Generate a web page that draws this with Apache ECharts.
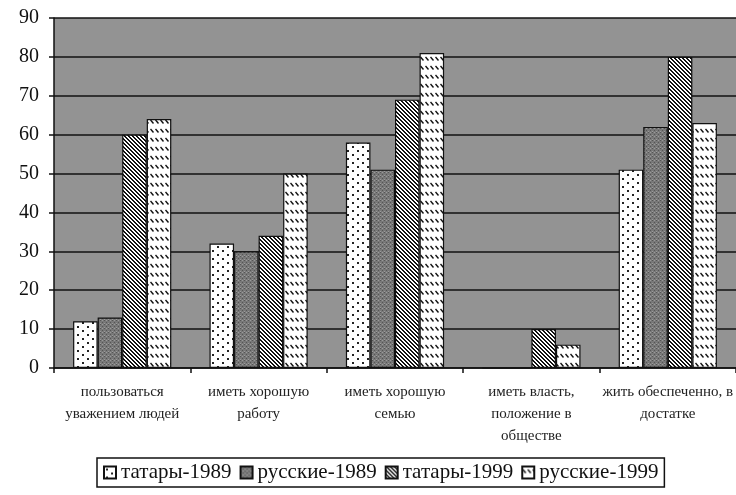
<!DOCTYPE html>
<html>
<head>
<meta charset="utf-8">
<script src="https://cdn.jsdelivr.net/npm/echarts@6/dist/echarts.min.js"></script>
<style>
  html, body { margin: 0; padding: 0; background: #fff; }
  #chart { width: 736px; height: 495px; }
</style>
</head>
<body>
<div id="chart"></div>
<script>
// ценности, которые хотят иметь (в %)
const categories = [
  'пользоваться\nуважением людей',
  'иметь хорошую\nработу',
  'иметь хорошую\nсемью',
  'иметь власть,\nположение в\nобществе',
  'жить обеспеченно, в\nдостатке'
];
const seriesNames = ['татары-1989', 'русские-1989', 'татары-1999', 'русские-1999'];
const tatars1989 = [12, 32, 58, 0, 51];
const russians1989 = [13, 30, 51, 0, 62];
const tatars1999 = [60, 34, 69, 10, 80];
const russians1999 = [64, 50, 81, 6, 63];
const yTicks = [0, 10, 20, 30, 40, 50, 60, 70, 80, 90];

// штриховки как в книжной картинке
function makePattern(w, h, draw) {
  const c = document.createElement('canvas');
  c.width = w;
  c.height = h;
  const ctx = c.getContext('2d');
  draw(ctx);
  return { image: c, repeat: 'repeat' };
}

const dots = makePattern(10, 8, ctx => {
  ctx.fillStyle = '#fff';
  ctx.fillRect(0, 0, 10, 8);
  ctx.fillStyle = '#222';
  ctx.fillRect(2, 2, 2, 2);
  ctx.fillRect(7, 6, 2, 2);
});

const darkGray = makePattern(4, 4, ctx => {
  ctx.fillStyle = '#787878';
  ctx.fillRect(0, 0, 4, 4);
  ctx.fillStyle = '#555';
  ctx.fillRect(0, 0, 1, 1);
  ctx.fillRect(2, 2, 1, 1);
  ctx.fillStyle = '#9a9a9a';
  ctx.fillRect(2, 0, 1, 1);
  ctx.fillRect(0, 3, 1, 1);
});

const diag = makePattern(4, 4, ctx => {
  ctx.fillStyle = '#fff';
  ctx.fillRect(0, 0, 4, 4);
  ctx.fillStyle = '#111';
  for (let i = 0; i < 4; i++) {
    ctx.fillRect(i, i, 1, 1);
    ctx.fillRect((i + 1) % 4, i, 1, 1);
  }
});

const zigzag = makePattern(5, 9, ctx => {
  ctx.fillStyle = '#fff';
  ctx.fillRect(0, 0, 5, 9);
  ctx.strokeStyle = '#111';
  ctx.lineWidth = 1.4;
  ctx.beginPath();
  ctx.moveTo(0.5, 3);
  ctx.lineTo(3.5, 6.5);
  ctx.stroke();
});

const fills = [dots, darkGray, diag, zigzag];
const values = [tatars1989, russians1989, tatars1999, russians1999];

const serif = '"Liberation Serif", "DejaVu Serif", serif';

const option = {
  animation: false,
  backgroundColor: '#fff',
  textStyle: { fontFamily: serif },
  grid: {
    left: 54,
    right: -3,
    top: 18,
    bottom: 127,
    show: true,
    backgroundColor: '#939393',
    borderWidth: 0
  },
  legend: {
    data: seriesNames,
    left: 97,
    top: 458,
    icon: 'rect',
    itemWidth: 12,
    itemHeight: 12,
    itemGap: 8,
    padding: [4, 6],
    borderColor: '#111',
    borderWidth: 1.5,
    textStyle: {
      fontFamily: serif,
      fontSize: 21,
      color: '#111'
    }
  },
  xAxis: {
    type: 'category',
    data: categories,
    axisLine: { lineStyle: { color: '#111', width: 1.5 } },
    axisTick: { show: true, length: 5, lineStyle: { color: '#111', width: 1.5 } },
    axisLabel: {
      interval: 0,
      margin: 13,
      fontFamily: serif,
      fontSize: 15,
      lineHeight: 22,
      color: '#222'
    },
    splitLine: { show: false }
  },
  yAxis: {
    type: 'value',
    min: 0,
    max: yTicks[yTicks.length - 1],
    interval: 10,
    axisLine: { show: true, lineStyle: { color: '#111', width: 1.5 } },
    axisTick: { show: true, length: 5, lineStyle: { color: '#111', width: 1.5 } },
    axisLabel: {
      margin: 15,
      fontFamily: serif,
      fontSize: 20,
      color: '#111'
    },
    splitLine: { show: true, lineStyle: { color: '#111', width: 1.5 } }
  },
  series: seriesNames.map((name, i) => ({
    name: name,
    type: 'bar',
    data: values[i],
    barGap: '0%',
    barCategoryGap: '28%',
    itemStyle: {
      color: fills[i],
      borderColor: '#111',
      borderWidth: 1.2
    }
  }))
};

const chart = echarts.init(document.getElementById('chart'), null, { renderer: 'canvas' });
chart.setOption(option);
</script>
</body>
</html>
